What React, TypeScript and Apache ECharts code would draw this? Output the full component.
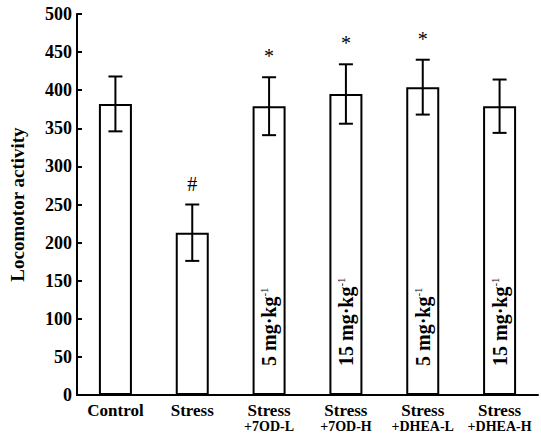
import React, { useEffect, useRef } from "react";
import * as echarts from "echarts";

const categories = ["Control", "Stress", "Stress\n+7OD-L", "Stress\n+7OD-H", "Stress\n+DHEA-L", "Stress\n+DHEA-H"];
const means = [382, 213, 379, 395, 404, 379];
const errors = [36, 37, 38, 39, 36, 35];
const marks = ["", "#", "*", "*", "*", ""];
const doses = ["", "", "5", "15", "5", "15"];
const yTicks = { min: 0, max: 500, interval: 50 };

const FONT = "'Liberation Serif', 'Times New Roman', serif";

export default function App() {
  const ref = useRef<HTMLDivElement>(null);
  useEffect(() => {
    if (!ref.current) return;
    const chart = echarts.init(ref.current, undefined, { renderer: "svg" });
    chart.setOption({
      animation: false,
      backgroundColor: "#fff",
      grid: { left: 70, right: 3, top: 14, bottom: 40 },
      xAxis: {
        type: "category",
        data: categories,
        axisLine: { lineStyle: { color: "#000", width: 2 } },
        axisTick: { inside: true, length: 5, lineStyle: { color: "#000", width: 2 } },
        axisLabel: {
          color: "#000",
          interval: 0,
          margin: 7,
          formatter: (v: string) =>
            v
              .split("\n")
              .map((s, k) => (k === 0 ? `{a|${s}}` : `{b|${s}}`))
              .join("\n"),
          rich: {
            a: { fontFamily: FONT, fontWeight: "bold", fontSize: 17, lineHeight: 17, color: "#000" },
            b: { fontFamily: FONT, fontWeight: "bold", fontSize: 14, lineHeight: 15, color: "#000" },
          },
        },
      },
      yAxis: {
        type: "value",
        min: yTicks.min,
        max: yTicks.max,
        interval: yTicks.interval,
        name: "Locomotor activity",
        nameLocation: "middle",
        nameGap: 50,
        nameTextStyle: { color: "#000", fontFamily: FONT, fontWeight: "bold", fontSize: 19 },
        axisLine: { show: true, lineStyle: { color: "#000", width: 2 } },
        axisTick: { show: true, inside: true, length: 5, lineStyle: { color: "#000", width: 2 } },
        splitLine: { show: false },
        axisLabel: {
          color: "#000",
          fontFamily: FONT,
          fontWeight: "bold",
          fontSize: 18,
          margin: 5,
        },
      },
      series: [
        {
          type: "bar",
          barWidth: 33,
          data: means.map((v, i) => ({
            value: v,
            label: doses[i]
              ? {
                  show: true,
                  position: "insideBottom",
                  rotate: 90,
                  align: "left",
                  verticalAlign: "middle",
                  distance: 29,
                  formatter: `{a|${doses[i]} mg·kg}{s|-1}`,
                  rich: {
                    a: { fontFamily: FONT, fontWeight: "bold", fontSize: 20, color: "#000" },
                    s: { fontFamily: FONT, fontSize: 11, color: "#000", verticalAlign: "top", padding: [0, 0, 10, 0] },
                  },
                }
              : { show: false },
          })),
          itemStyle: { color: "#fff", borderColor: "#000", borderWidth: 2 },
        },
        {
          type: "custom",
          data: means.map((m, i) => [i, m + errors[i], m - errors[i]]),
          renderItem: (params: any, api: any) => {
            const x = api.value(0);
            const hi = api.coord([x, api.value(1)]);
            const lo = api.coord([x, api.value(2)]);
            const cap = 7;
            const st = { stroke: "#000", lineWidth: 2 };
            return {
              type: "group",
              children: [
                { type: "line", shape: { x1: hi[0], y1: hi[1], x2: lo[0], y2: lo[1] }, style: st },
                { type: "line", shape: { x1: hi[0] - cap, y1: hi[1], x2: hi[0] + cap, y2: hi[1] }, style: st },
                { type: "line", shape: { x1: lo[0] - cap, y1: lo[1], x2: lo[0] + cap, y2: lo[1] }, style: st },
              ],
            };
          },
          z: 3,
        },
        {
          type: "custom",
          data: means.map((m, i) => [i, m + errors[i]]),
          renderItem: (params: any, api: any) => {
            const i = params.dataIndex;
            if (!marks[i]) return null;
            const p = api.coord([api.value(0), api.value(1)]);
            return {
              type: "text",
              x: p[0],
              y: p[1] - 21,
              style: {
                text: marks[i],
                fill: "#000",
                font: `normal 20px ${FONT}`,
                align: "center",
                verticalAlign: "middle",
              },
            };
          },
          z: 3,
        },
      ],
    });
    return () => chart.dispose();
  }, []);
  return <div ref={ref} style={{ position: "fixed", left: 0, top: 0, width: 541, height: 435 }} />;
}
